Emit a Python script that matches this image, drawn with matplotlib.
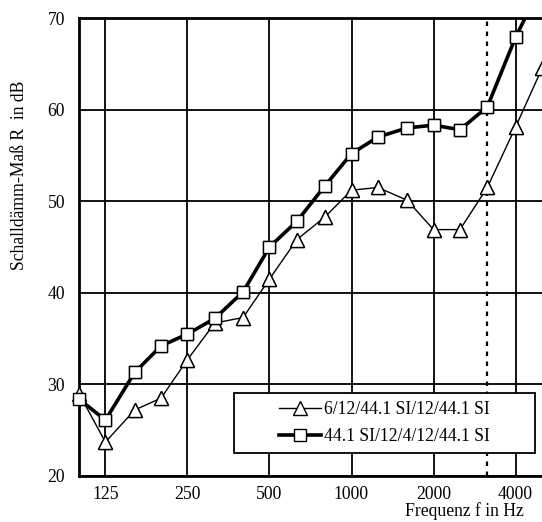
import matplotlib
matplotlib.use("Agg")
import matplotlib.pyplot as plt
import numpy as np
from matplotlib.ticker import FixedLocator, NullLocator
from matplotlib.patches import Rectangle

plt.rcParams['font.family'] = ['Liberation Serif', 'DejaVu Serif']

freqs = [100, 125, 160, 200, 250, 315, 400, 500, 630, 800, 1000, 1250, 1600, 2000, 2500, 3150, 4000, 5000]
tri_vals = [29.0, 23.7, 27.2, 28.5, 32.7, 36.7, 37.3, 41.5, 45.8, 48.3, 51.2, 51.5, 50.1, 46.9, 46.9, 51.5, 58.1, 64.5]
sq_vals = [28.4, 26.1, 31.3, 34.2, 35.5, 37.2, 40.1, 45.0, 47.8, 51.7, 55.2, 57.0, 58.0, 58.3, 57.8, 60.3, 67.9, 73.7]
tri_label = "6/12/44.1 SI/12/44.1 SI"
sq_label = "44.1 SI/12/4/12/44.1 SI"
xticks = [125, 250, 500, 1000, 2000, 4000]
yticks = [20, 30, 40, 50, 60, 70]
marker_freq = 3150

FS = 12.7
W, H = 542, 522
YMIN, YMAX = 20, 70

fig = plt.figure(figsize=(5.42, 5.22), dpi=100)
ax = fig.add_axes([79/W, 46/H, 1 - 79/W, 458/H])
ax.set_xscale('log')
ax.set_xlim(100, 5000)
ax.set_ylim(YMIN, YMAX)

ax.xaxis.set_major_locator(FixedLocator(xticks))
ax.xaxis.set_minor_locator(NullLocator())
ax.set_xticklabels([str(t) for t in xticks])
ax.yaxis.set_major_locator(FixedLocator(yticks))
ax.tick_params(axis='both', length=0, labelsize=FS)
ax.tick_params(axis='x', pad=7)
ax.tick_params(axis='y', pad=10)
ax.grid(True, which='major', color='black', linewidth=1.3)

for s in ['left', 'top', 'bottom']:
    ax.spines[s].set_linewidth(2)
ax.spines['right'].set_visible(False)

ax.axvline(marker_freq, color='black', linestyle=(0, (2, 2.5)), linewidth=1.6, zorder=2.5)

tri_style = dict(marker='^', markersize=9.5, markerfacecolor='white', markeredgecolor='black', markeredgewidth=1.0)
sq_style = dict(marker='s', markersize=8.5, markerfacecolor='white', markeredgecolor='black', markeredgewidth=1.0)

ax.plot(freqs, tri_vals, color='black', linewidth=1.0, label=tri_label, zorder=3, **tri_style)
ax.plot(freqs, sq_vals, color='black', linewidth=2.6, label=sq_label, zorder=4, **sq_style)

# unclipped markers for points inside the value range
f = np.array(freqs, dtype=float)
for vals, st, z in [(tri_vals, tri_style, 3.1), (sq_vals, sq_style, 4.1)]:
    v = np.array(vals, dtype=float)
    m = (v >= YMIN) & (v <= YMAX)
    ax.plot(f[m], v[m], linestyle='none', zorder=z, clip_on=False, **st)

# legend frame
rect = Rectangle((234/W, 1 - 453/H), (535 - 234)/W, 60/H, transform=fig.transFigure,
                 facecolor='white', edgecolor='black', linewidth=1.3, zorder=5, clip_on=False)
ax.add_patch(rect)
leg = ax.legend(loc='center', bbox_to_anchor=(234/W, 1 - 453/H, (535 - 234)/W, 60/H),
                bbox_transform=fig.transFigure,
                fontsize=FS, frameon=False, handlelength=2.4, handletextpad=0.2,
                borderpad=0.0, labelspacing=0.55)
leg.set_zorder(6)

fig.text(20/W, 1 - 175/H, "Schalldämm-Maß R  in dB", rotation=90, ha='center', va='center', fontsize=FS)
fig.text(524/W, 1 - 511/H, "Frequenz f in Hz", ha='right', va='center', fontsize=FS)

fig.savefig("out.png", dpi=100)
